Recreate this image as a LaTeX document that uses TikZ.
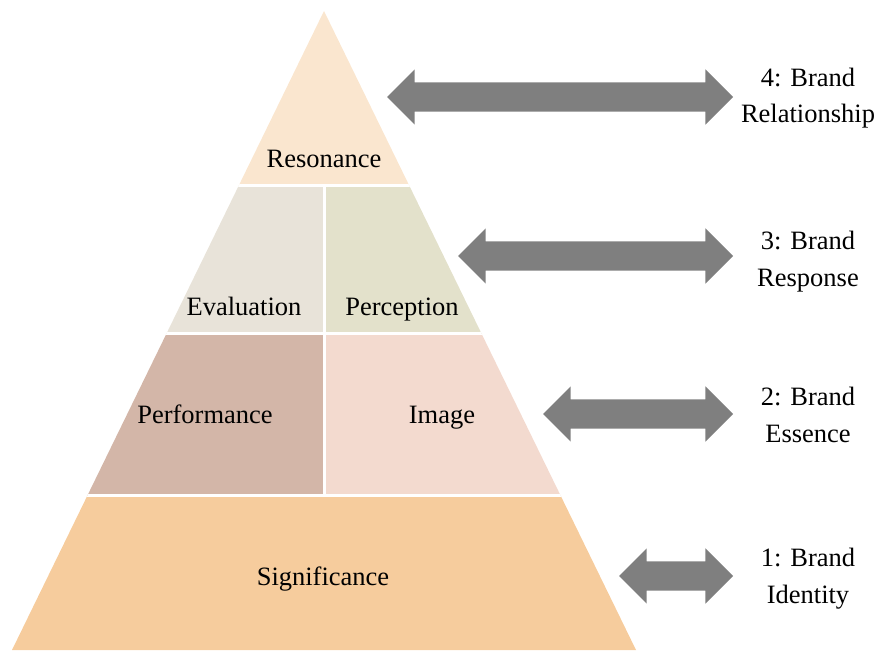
\documentclass[tikz,border=0pt]{standalone}
\usepackage{fontspec}
\setmainfont{Liberation Serif}
\usetikzlibrary{shapes.arrows}
\definecolor{resC}{HTML}{FAE6CF}
\definecolor{evaC}{HTML}{E8E3D9}
\definecolor{perC}{HTML}{E3E1CB}
\definecolor{prfC}{HTML}{D3B6A8}
\definecolor{imgC}{HTML}{F3DACF}
\definecolor{sigC}{HTML}{F6CC9D}
\definecolor{arrC}{HTML}{7F7F7F}
\tikzset{
  layer/.style={font=\fontsize{26.5}{32}\selectfont, anchor=base},
  side/.style={font=\fontsize{26.5}{36.5}\selectfont, align=center, anchor=base},
  link/.style={double arrow, fill=arrC, draw=none, inner xsep=0pt, inner ysep=14.5pt,
    double arrow head extend=13pt, double arrow tip angle=90},
  gap/.style={white, line width=3pt}
}
\begin{document}
\begin{tikzpicture}[x=1pt,y=-1pt]
\useasboundingbox (0,0) rectangle (877,652);
% pyramid bands
\begin{scope}
  \clip (324,11) -- (12,650) -- (636,650) -- cycle;
  \fill[resC] (0,0) rectangle (877,186);
  \fill[evaC] (0,186) rectangle (324,333.5);
  \fill[perC] (324,186) rectangle (877,333.5);
  \fill[prfC] (0,333.5) rectangle (324,495.5);
  \fill[imgC] (324,333.5) rectangle (877,495.5);
  \fill[sigC] (0,495.5) rectangle (877,652);
  \draw[gap] (0,186) -- (877,186);
  \draw[gap] (0,333.5) -- (877,333.5);
  \draw[gap] (0,495.5) -- (877,495.5);
  \draw[gap] (324,186) -- (324,495.5);
\end{scope}
% band labels
\node[layer] (res) at (324,168) {Resonance};
\node[layer] (eva) at (244,315) {Evaluation};
\node[layer] (per) at (402,315) {Perception};
\node[layer] (prf) at (205,423) {Performance};
\node[layer] (img) at (442,423) {Image};
\node[layer] (sig) at (323,585) {Significance};
% double arrows
\node[link, minimum height=346pt] (a4) at (560,97) {};
\node[link, minimum height=275pt] (a3) at (595.5,256) {};
\node[link, minimum height=190pt] (a2) at (638,414) {};
\node[link, minimum height=114pt] (a1) at (676,576) {};
% level labels (base anchor sits on the second line)
\node[side] (l4) at (808,123) {4: Brand\\Relationship};
\node[side] (l3) at (808,286) {3: Brand\\Response};
\node[side] (l2) at (808,442) {2: Brand\\Essence};
\node[side] (l1) at (808,603) {1: Brand\\Identity};
\end{tikzpicture}
\end{document}
